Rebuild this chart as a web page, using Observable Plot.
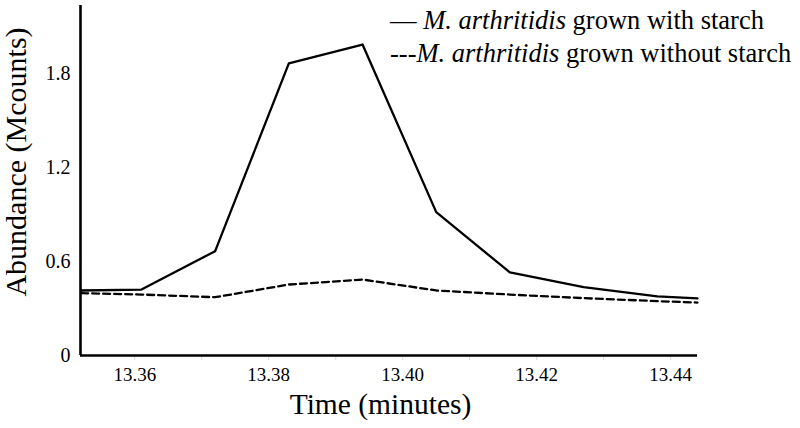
<!DOCTYPE html>
<html><head><meta charset="utf-8">
<script src="https://cdn.jsdelivr.net/npm/d3@7"></script>
<script src="https://cdn.jsdelivr.net/npm/@observablehq/plot@0.6"></script>
<style>
body{margin:0;background:#fff;}
#wrap{position:relative;width:800px;height:428px;}
#wrap, #wrap *{font-family:"Liberation Serif","Times New Roman",Times,serif !important;}
.leg{position:absolute;left:390px;font-size:26.5px;line-height:1;color:#000;white-space:nowrap;}
</style></head><body>
<div id="wrap">
<div class="leg" style="top:6.5px">— <i>M. arthritidis</i> grown with starch</div>
<div class="leg" style="top:40px">---<i>M. arthritidis</i> grown without starch</div>
</div>
<script>
const times = [13.352, 13.361, 13.372, 13.383, 13.394, 13.405, 13.416, 13.427, 13.438, 13.444];
const withStarch = [0.415, 0.421, 0.666, 1.865, 1.985, 0.915, 0.53, 0.436, 0.377, 0.364];
const withoutStarch = [0.398, 0.389, 0.372, 0.453, 0.485, 0.415, 0.389, 0.366, 0.347, 0.338];
const xTickLabels = [13.36, 13.38, 13.40, 13.42, 13.44];
const xMinorTicks = [13.36, 13.37, 13.38, 13.39, 13.40, 13.41, 13.42, 13.43, 13.44];
const yTickLabels = [0, 0.6, 1.2, 1.8];
const xLabel = "Time (minutes)";
const yLabel = "Abundance (Mcounts)";

const xDomain = [13.3519, 13.444];
const yDomain = [0, 2.234];

const rowsWith = times.map((t, i) => ({t, v: withStarch[i]}));
const rowsWithout = times.map((t, i) => ({t, v: withoutStarch[i]}));
const font = "Liberation Serif";

const chart = Plot.plot({
  width: 800,
  height: 428,
  marginLeft: 80,
  marginRight: 103,
  marginTop: 5,
  marginBottom: 73,
  style: {fontFamily: font, background: "transparent", color: "#000"},
  x: {domain: xDomain},
  y: {domain: yDomain},
  marks: [
    Plot.axisX({ticks: xMinorTicks, tickSize: 5, stroke: "#d8d8d8", text: null, label: null}),
    Plot.axisX({ticks: xTickLabels, tickSize: 0, tickPadding: 12, tickFormat: d => d.toFixed(2), fontSize: 19, fontFamily: font, fill: "#000", label: null}),
    Plot.axisY({ticks: yTickLabels, tickSize: 0, tickPadding: 10, tickFormat: d => d === 0 ? "0" : d.toFixed(1), fontSize: 20, fontFamily: font, fill: "#000", label: null}),
    Plot.line(rowsWithout, {x: "t", y: "v", stroke: "#000", strokeWidth: 2.3, strokeDasharray: "7,4"}),
    Plot.line(rowsWith, {x: "t", y: "v", stroke: "#000", strokeWidth: 2.3}),
    Plot.ruleY([0], {stroke: "#000", strokeWidth: 2.6}),
    Plot.ruleX([xDomain[0]], {stroke: "#000", strokeWidth: 2.6}),
    Plot.text([xLabel], {frameAnchor: "bottom", textAnchor: "middle", lineAnchor: "middle", dx: -8.5, dy: 48.6, fontSize: 29.5, fontFamily: font, fill: "#000"}),
    Plot.text([yLabel], {frameAnchor: "left", textAnchor: "middle", lineAnchor: "middle", dx: -64.6, dy: -18.5, rotate: -90, fontSize: 30, fontFamily: font, fill: "#000"})
  ]
});
document.getElementById("wrap").prepend(chart);
chart.style.position = "absolute";
chart.style.left = "0";
chart.style.top = "0";
</script>
</body></html>
